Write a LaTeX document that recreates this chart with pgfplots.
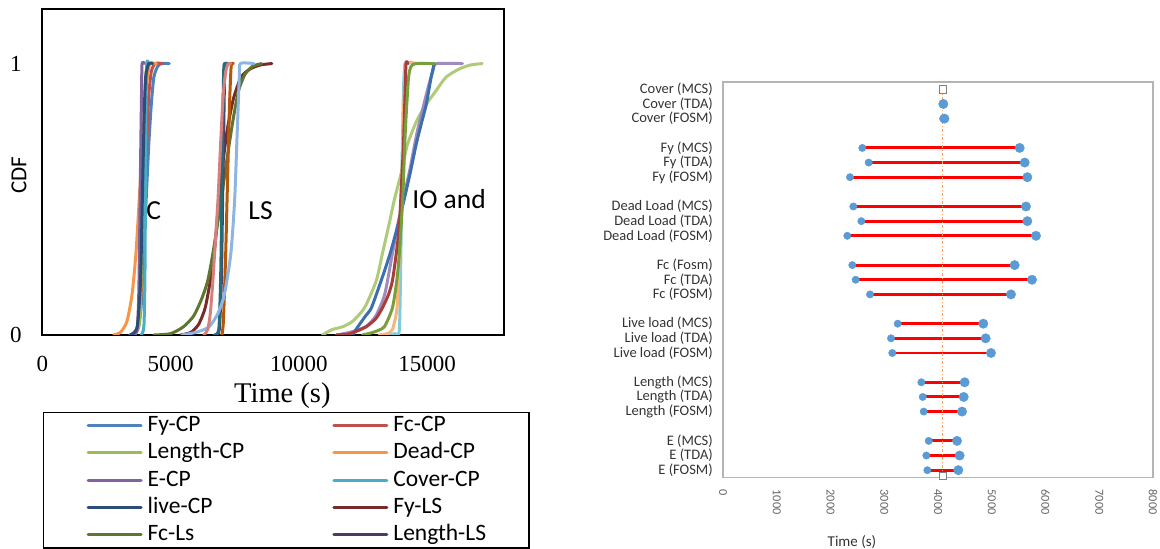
\documentclass[border=0pt]{standalone}
\usepackage{fontspec}
\setmainfont{Carlito}
\newfontfamily\timesf{Liberation Serif}
\usepackage{pgfplots}
\usepackage{pgfplotstable}
\pgfplotsset{compat=1.18}

\definecolor{s1}{HTML}{4F81BD}
\definecolor{s2}{HTML}{C0504D}
\definecolor{s3}{HTML}{9BBB59}
\definecolor{s4}{HTML}{F79646}
\definecolor{s5}{HTML}{8064A2}
\definecolor{s6}{HTML}{4BACC6}
\definecolor{s7}{HTML}{2C4D75}
\definecolor{s8}{HTML}{772C2A}
\definecolor{s9}{HTML}{5F7530}
\definecolor{s10}{HTML}{4D3B62}
\definecolor{s11}{HTML}{276A7C}
\definecolor{s12}{HTML}{B65708}
\definecolor{s13}{HTML}{8EB4E3}
\definecolor{s14}{HTML}{D6807D}
\definecolor{s15}{HTML}{AFCB7A}
\definecolor{s16}{HTML}{A08BBF}
\definecolor{s17}{HTML}{7FCBDD}
\definecolor{s18}{HTML}{F9B47A}
\definecolor{s19}{HTML}{3D6FAE}
\definecolor{s20}{HTML}{A83E3B}
\definecolor{s21}{HTML}{77A03A}
\definecolor{dotblue}{HTML}{5B9BD5}
\definecolor{boxgray}{HTML}{B4B4B4}
\definecolor{refline}{HTML}{F4A46A}

\pgfplotstableread{
y lo hi
0 3802 4378
1 3783 4403
2 3827 4354
4 3734 4447
5 3715 4478
6 3690 4496
8 3150 4986
9 3126 4887
10 3250 4843
12 2735 5358
13 2468 5749
14 2406 5426
16 2313 5823
17 2574 5662
18 2425 5637
20 2363 5662
21 2710 5613
22 2592 5520
24 4095 4120
25 4099 4099
}\rangetable

\pgfplotsset{cdf/.style={line width=3pt, smooth, tension=0.4, mark=none, line join=round, line cap=round}}

\begin{document}
\begin{tikzpicture}
\path[use as bounding box] (0,0) rectangle (1160pt,549pt);

\begin{axis}[
  at={(42.3pt,214pt)}, anchor=south west,
  width=461.7pt, height=325.7pt, scale only axis,
  xmin=0, xmax=18000, ymin=0, ymax=1.2,
  xtick={0,5000,10000,15000}, ytick={0,1},
  major tick length=0pt,
  scaled x ticks=false,
  /pgf/number format/1000 sep={},
  /pgf/number format/assume math mode=true,
  axis line style={line width=1.6pt},
  tick label style={font=\timesf\fontsize{23}{23}\selectfont},
  xticklabel style={inner sep=0pt, anchor=north, yshift=-21.5pt},
  yticklabel style={inner sep=0pt, anchor=east, xshift=-20.5pt},
  xlabel={\timesf Time (s)},
  xlabel style={font=\fontsize{28.5}{28.5}\selectfont, at={(axis description cs:0.52,0)}, anchor=north, inner sep=0pt, yshift=-47.5pt},
  ylabel={CDF},
  ylabel style={font=\fontsize{23}{23}\selectfont, at={(axis description cs:-0.0505,0.49)}, anchor=center, inner sep=0pt},
  legend columns=2,
  legend cell align=left,
  legend image code/.code={\draw[#1] (0pt,0pt) -- (53pt,0pt);},
  legend style={at={(axis description cs:0.0015,-0.2364)}, anchor=north west,
    draw=black, line width=1.4pt, font=\fontsize{23.5}{23.5}\selectfont,
    inner xsep=43pt, inner ysep=2pt,
    nodes={inner sep=0pt, text height=17pt, text depth=5pt},
    row sep=5.3pt,
    /tikz/every odd column/.append style={column sep=5pt},
    /tikz/every even column/.append style={column sep=88pt}},
]
% CP
\addplot[cdf, s1] coordinates {(3400,0) (3700,0.02) (3850,0.1) (3950,0.3) (4050,0.5) (4150,0.7) (4250,0.85) (4350,0.95) (4500,0.99) (4650,1) (4950,1)};
\addlegendentry{Fy-CP}
\addplot[cdf, s2] coordinates {(3450,0) (3750,0.03) (3880,0.2) (3970,0.45) (4070,0.7) (4150,0.88) (4250,0.97) (4400,1) (4700,1)};
\addlegendentry{Fc-CP}
\addplot[cdf, s3] coordinates {(3600,0) (3800,0.05) (3880,0.3) (3930,0.55) (3980,0.8) (4030,0.95) (4100,1) (4200,1)};
\addlegendentry{Length-CP}
\addplot[cdf, s4] coordinates {(2780,0) (3050,0.01) (3300,0.05) (3500,0.15) (3650,0.3) (3780,0.5) (3900,0.7) (4000,0.85) (4100,0.95) (4200,1) (4450,1)};
\addlegendentry{Dead-CP}
\addplot[cdf, s5] coordinates {(3550,0) (3700,0.02) (3760,0.15) (3800,0.4) (3840,0.7) (3870,0.9) (3890,1) (3990,1)};
\addlegendentry{E-CP}
\addplot[cdf, s6] coordinates {(3850,0) (3960,0.03) (4000,0.2) (4020,0.5) (4040,0.8) (4070,1) (4150,1)};
\addlegendentry{Cover-CP}
\addplot[cdf, s7] coordinates {(3450,0) (3700,0.03) (3830,0.2) (3900,0.5) (3970,0.8) (4030,0.95) (4150,1) (4300,1)};
\addlegendentry{live-CP}
% LS
\addplot[cdf, s8] coordinates {(5400,0) (5800,0.01) (6100,0.04) (6350,0.1) (6550,0.2) (6700,0.3) (6850,0.45) (7000,0.6) (7200,0.75) (7450,0.87) (7750,0.95) (8100,0.98) (8500,0.995) (8950,1)};
\addlegendentry{Fy-LS}
\addplot[cdf, s9] coordinates {(4350,0) (5000,0.005) (5500,0.03) (5900,0.07) (6200,0.13) (6450,0.2) (6650,0.3) (6850,0.42) (7050,0.55) (7250,0.68) (7450,0.8) (7650,0.9) (7900,0.96) (8200,0.99) (8550,1)};
\addlegendentry{Fc-Ls}
\addplot[cdf, s10] coordinates {(6750,0) (6900,0.02) (6980,0.2) (7030,0.5) (7080,0.8) (7110,0.97) (7150,1) (7250,1)};
\addlegendentry{Length-LS}
\addplot[cdf, s11] coordinates {(6700,0) (6880,0.02) (6950,0.2) (7000,0.5) (7040,0.8) (7070,0.97) (7100,1) (7200,1)};
\addplot[cdf, s12] coordinates {(7000,0) (7060,0.05) (7150,0.3) (7230,0.6) (7300,0.85) (7350,0.97) (7380,1) (7450,1)};
\addplot[cdf, s13] coordinates {(5450,0) (6000,0.01) (6500,0.03) (6850,0.08) (7100,0.15) (7350,0.3) (7500,0.5) (7600,0.75) (7680,0.95) (7720,1) (8250,1)};
\addplot[cdf, s14] coordinates {(6300,0) (6450,0.02) (6550,0.08) (6650,0.2) (6750,0.35) (6850,0.5) (6950,0.7) (7050,0.88) (7150,0.97) (7250,1) (7350,1)};
% IO
\addplot[cdf, s15] coordinates {(10920,0) (11300,0.02) (11700,0.03) (12090,0.05) (12560,0.1) (13020,0.2) (13260,0.3) (13500,0.4) (13730,0.5) (14000,0.6) (14230,0.7) (14600,0.79) (14970,0.85) (15350,0.9) (15740,0.95) (16250,0.98) (16700,0.995) (17150,1)};
\addplot[cdf, s16] coordinates {(11470,0) (12000,0.01) (12600,0.03) (13000,0.07) (13350,0.15) (13650,0.3) (13950,0.45) (14310,0.6) (14620,0.75) (15010,0.9) (15250,0.98) (15360,1) (16380,1)};
\addplot[cdf, s17] coordinates {(13440,0) (13750,0.005) (13920,0.02) (13980,0.3) (14020,0.6) (14080,0.9) (14140,1) (14300,1)};
\addplot[cdf, s18] coordinates {(13130,0) (13450,0.005) (13650,0.02) (13830,0.1) (13920,0.3) (13990,0.5) (14050,0.7) (14110,0.9) (14180,1) (14570,1)};
\addplot[cdf, s19] coordinates {(12090,0) (12300,0.03) (12600,0.07) (12830,0.1) (13210,0.2) (13560,0.3) (13850,0.4) (14110,0.5) (14350,0.6) (14570,0.7) (14780,0.78) (14970,0.85) (15160,0.95) (15280,1)};
\addplot[cdf, s20] coordinates {(11470,0) (12000,0.005) (12620,0.03) (13000,0.06) (13260,0.1) (13500,0.15) (13650,0.2) (13800,0.3) (13920,0.4) (14000,0.55) (14080,0.7) (14130,0.85) (14180,1) (14250,1)};
\addplot[cdf, s21] coordinates {(12480,0) (12900,0.01) (13330,0.03) (13650,0.1) (13820,0.2) (13920,0.3) (14050,0.5) (14130,0.7) (14180,0.8) (14280,0.95) (14380,0.99) (14570,1) (15280,1)};

\node[font=\fontsize{27.5}{27.5}\selectfont] at (axis cs:4346,0.459) {C};
\node[font=\fontsize{27.5}{27.5}\selectfont] at (axis cs:8510,0.459) {LS};
\node[font=\fontsize{27.5}{27.5}\selectfont] at (axis cs:15860,0.501) {IO and};
\end{axis}

\begin{axis}[
  at={(723pt,71.5pt)}, anchor=south west,
  width=430pt, height=395.5pt, scale only axis,
  xmin=0, xmax=8000, ymin=-0.5, ymax=26.5,
  xtick={0,1000,...,8000},
  ytick={0,1,2,4,5,6,8,9,10,12,13,14,16,17,18,20,21,22,24,25,26},
  yticklabels={E (FOSM),E (TDA),E (MCS),Length (FOSM),Length (TDA),Length (MCS),Live load (FOSM),Live load (TDA),Live load (MCS),Fc (FOSM),Fc (TDA),Fc (Fosm),Dead Load (FOSM),Dead Load (TDA),Dead Load (MCS),Fy (FOSM),Fy (TDA),Fy (MCS),Cover (FOSM),Cover (TDA),Cover (MCS)},
  major tick length=0pt,
  scaled x ticks=false,
  /pgf/number format/1000 sep={},
  /pgf/number format/assume math mode=true,
  axis line style={draw=boxgray, line width=1.6pt},
  xticklabel style={font=\fontsize{12.3}{12.3}\selectfont, text=black!60, rotate=-90, anchor=west, inner sep=0pt},
  xticklabel shift=12pt,
  yticklabel style={font=\fontsize{14.5}{14.5}\selectfont, text=black!80, anchor=east, inner sep=0pt},
  yticklabel shift=10pt,
  xlabel={Time (s)},
  xlabel style={font=\fontsize{15}{15}\selectfont, text=black!80, at={(axis description cs:0.30,0)}, anchor=north, inner sep=0pt, yshift=-57.5pt},
]
\addplot[draw=none, mark=none, forget plot, error bars/.cd, x dir=plus, x explicit, error mark=none, error bar style={red, line width=2.9pt}]
  table[x=lo, y=y, x error expr=\thisrow{hi}-\thisrow{lo}] {\rangetable};
\addplot[only marks, mark=*, mark size=3.7pt, dotblue, mark options={draw=dotblue, fill=dotblue}] table[x=lo, y=y] {\rangetable};
\addplot[only marks, mark=*, mark size=4.7pt, dotblue, mark options={draw=dotblue, fill=dotblue}] table[x=hi, y=y] {\rangetable};
\addplot[refline, line width=1pt, dash dot, mark=square*, mark size=3.8pt, mark options={solid, draw=gray, fill=white, line width=0.8pt}] coordinates {(4090,26) (4090,-0.4)};
\end{axis}
\end{tikzpicture}
\end{document}
